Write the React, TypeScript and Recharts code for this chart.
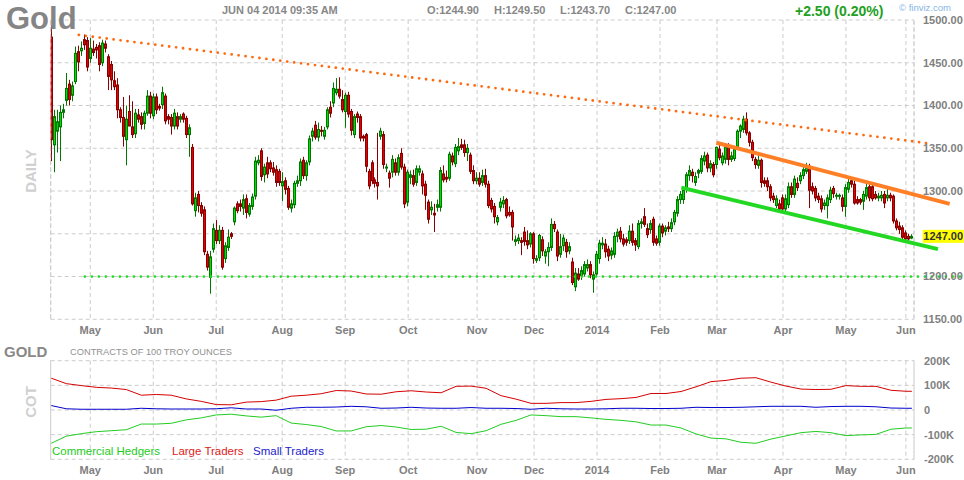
import React from "react";
import { ComposedChart, Bar, Line, XAxis, YAxis, CartesianGrid, ReferenceLine } from "recharts";

// ---------------------------------------------------------------------------
// Daily gold futures, mid Apr 2013 -> Jun 04 2014
// ---------------------------------------------------------------------------

const opens = [
  1480, 1354, 1370, 1375, 1392, 1406, 1425, 1412, 1428, 1463,
  1464, 1477, 1476, 1455, 1466, 1468, 1470, 1450, 1472, 1457,
  1448, 1429, 1424, 1395, 1386, 1360, 1393, 1375, 1367, 1389,
  1387, 1379, 1391, 1411, 1388, 1410, 1399, 1401, 1411, 1387,
  1386, 1376, 1387, 1384, 1390, 1385, 1366, 1351, 1277, 1296,
  1283, 1278, 1226, 1199, 1232, 1254, 1242, 1254, 1221, 1234,
  1250, 1264, 1285, 1285, 1280, 1291, 1273, 1282, 1294, 1333,
  1347, 1319, 1333, 1333, 1327, 1325, 1323, 1306, 1312, 1303,
  1280, 1284, 1309, 1312, 1336, 1318, 1334, 1364, 1377, 1363,
  1371, 1364, 1375, 1398, 1403, 1415, 1419, 1407, 1393, 1412,
  1393, 1366, 1390, 1387, 1364, 1366, 1323, 1333, 1313, 1310,
  1364, 1366, 1327, 1321, 1322, 1333, 1322, 1344, 1328, 1287,
  1316, 1318, 1310, 1322, 1320, 1308, 1287, 1278, 1274, 1281,
  1281, 1320, 1316, 1315, 1341, 1332, 1347, 1354, 1354, 1345,
  1342, 1324, 1312, 1315, 1310, 1318, 1308, 1289, 1282, 1264,
  1281, 1285, 1290, 1275, 1275, 1241, 1242, 1242, 1252, 1242,
  1238, 1250, 1219, 1222, 1243, 1224, 1229, 1234, 1261, 1252,
  1226, 1236, 1240, 1230, 1217, 1188, 1203, 1201, 1203, 1210,
  1214, 1197, 1203, 1221, 1237, 1238, 1232, 1225, 1226, 1247,
  1253, 1244, 1243, 1242, 1253, 1242, 1235, 1262, 1270, 1256,
  1255, 1267, 1244, 1240, 1259, 1253, 1258, 1256, 1264, 1274,
  1290, 1290, 1302, 1318, 1322, 1310, 1321, 1323, 1335, 1342,
  1327, 1331, 1331, 1349, 1333, 1337, 1351, 1337, 1338, 1351,
  1370, 1372, 1384, 1368, 1357, 1337, 1330, 1336, 1312, 1312,
  1305, 1294, 1283, 1285, 1292, 1279, 1284, 1305, 1296, 1309,
  1312, 1318, 1323, 1329, 1305, 1303, 1294, 1291, 1283, 1283,
  1290, 1303, 1294, 1294, 1292, 1282, 1302, 1312, 1308, 1290,
  1290, 1288, 1294, 1305, 1305, 1296, 1292, 1292, 1296, 1292,
  1295, 1294, 1265, 1259, 1257, 1251, 1247, 1244.9,
];

const highs = [
  1494, 1395, 1395, 1400, 1402, 1438, 1430, 1428, 1469, 1470,
  1475, 1483, 1480, 1479, 1476, 1472, 1474, 1477, 1476, 1460,
  1452, 1440, 1432, 1398, 1410, 1400, 1412, 1405, 1396, 1396,
  1392, 1394, 1418, 1416, 1414, 1414, 1402, 1422, 1414, 1390,
  1390, 1396, 1392, 1390, 1392, 1388, 1378, 1355, 1298, 1300,
  1287, 1282, 1230, 1230, 1262, 1266, 1260, 1258, 1240, 1255,
  1252, 1282, 1288, 1290, 1296, 1296, 1286, 1297, 1340, 1342,
  1350, 1332, 1340, 1336, 1334, 1330, 1326, 1322, 1316, 1306,
  1290, 1312, 1318, 1338, 1340, 1336, 1365, 1374, 1382, 1380,
  1376, 1375, 1398, 1405, 1427, 1432, 1433, 1418, 1415, 1416,
  1396, 1390, 1393, 1390, 1366, 1368, 1326, 1336, 1316, 1368,
  1374, 1370, 1332, 1324, 1342, 1338, 1343, 1350, 1332, 1325,
  1324, 1325, 1330, 1330, 1324, 1312, 1290, 1288, 1285, 1290,
  1328, 1330, 1324, 1346, 1345, 1355, 1362, 1361, 1360, 1355,
  1345, 1330, 1322, 1322, 1325, 1326, 1312, 1292, 1286, 1272,
  1292, 1294, 1292, 1282, 1278, 1248, 1250, 1246, 1258, 1254,
  1252, 1252, 1225, 1250, 1247, 1232, 1240, 1268, 1265, 1255,
  1250, 1249, 1244, 1240, 1222, 1210, 1210, 1212, 1218, 1220,
  1218, 1206, 1230, 1243, 1246, 1244, 1236, 1234, 1252, 1256,
  1258, 1250, 1246, 1260, 1262, 1245, 1266, 1268, 1280, 1262,
  1266, 1270, 1248, 1262, 1262, 1260, 1264, 1268, 1278, 1294,
  1300, 1305, 1322, 1330, 1326, 1322, 1326, 1342, 1346, 1345,
  1336, 1334, 1352, 1354, 1345, 1356, 1356, 1346, 1352, 1372,
  1378, 1388, 1392, 1370, 1360, 1340, 1342, 1338, 1316, 1316,
  1308, 1298, 1295, 1290, 1296, 1296, 1310, 1310, 1318, 1316,
  1322, 1328, 1333, 1332, 1310, 1306, 1298, 1295, 1290, 1296,
  1305, 1306, 1298, 1297, 1296, 1308, 1314, 1316, 1312, 1294,
  1292, 1300, 1310, 1308, 1308, 1300, 1298, 1300, 1300, 1304,
  1298, 1296, 1268, 1264, 1260, 1254, 1250, 1249.5,
];

const lows = [
  1335, 1322, 1345, 1335, 1385, 1400, 1400, 1405, 1425, 1440,
  1458, 1465, 1440, 1450, 1458, 1455, 1440, 1446, 1462, 1418,
  1418, 1418, 1385, 1380, 1352, 1330, 1378, 1362, 1362, 1380,
  1372, 1372, 1388, 1385, 1384, 1390, 1394, 1396, 1378, 1378,
  1366, 1372, 1372, 1380, 1380, 1362, 1340, 1283, 1270, 1275,
  1270, 1225, 1207, 1180, 1228, 1238, 1238, 1208, 1216, 1230,
  1244, 1260, 1274, 1276, 1272, 1268, 1270, 1278, 1290, 1330,
  1312, 1310, 1315, 1322, 1318, 1305, 1306, 1288, 1296, 1278,
  1275, 1280, 1305, 1306, 1314, 1312, 1330, 1358, 1360, 1358,
  1364, 1360, 1372, 1386, 1398, 1412, 1408, 1392, 1374, 1386,
  1365, 1362, 1380, 1358, 1358, 1322, 1302, 1308, 1304, 1290,
  1360, 1326, 1322, 1304, 1316, 1318, 1318, 1325, 1280, 1282,
  1308, 1305, 1306, 1318, 1296, 1278, 1262, 1272, 1252, 1276,
  1276, 1310, 1310, 1312, 1330, 1328, 1342, 1348, 1340, 1335,
  1320, 1308, 1308, 1305, 1306, 1304, 1280, 1275, 1262, 1260,
  1276, 1280, 1268, 1270, 1242, 1236, 1238, 1225, 1236, 1232,
  1234, 1215, 1216, 1218, 1224, 1215, 1212, 1230, 1252, 1218,
  1222, 1230, 1222, 1226, 1190, 1183, 1195, 1196, 1200, 1206,
  1198, 1181, 1200, 1215, 1232, 1222, 1218, 1220, 1222, 1240,
  1240, 1235, 1236, 1238, 1236, 1230, 1232, 1256, 1258, 1245,
  1250, 1236, 1236, 1236, 1246, 1248, 1252, 1252, 1260, 1270,
  1285, 1285, 1298, 1312, 1310, 1306, 1315, 1320, 1330, 1322,
  1322, 1316, 1326, 1336, 1330, 1332, 1330, 1334, 1335, 1348,
  1362, 1368, 1365, 1352, 1335, 1326, 1326, 1304, 1305, 1300,
  1288, 1286, 1280, 1275, 1276, 1276, 1280, 1292, 1292, 1300,
  1308, 1314, 1320, 1280, 1296, 1288, 1286, 1275, 1278, 1268,
  1286, 1292, 1290, 1290, 1276, 1270, 1298, 1304, 1284, 1284,
  1284, 1278, 1290, 1288, 1288, 1290, 1288, 1288, 1280, 1288,
  1288, 1262, 1254, 1250, 1242, 1240, 1240, 1243.7,
];

const closes = [
  1360, 1387, 1381, 1392, 1395, 1420, 1407, 1423, 1461, 1451,
  1467, 1471, 1445, 1467, 1462, 1465, 1448, 1473, 1467, 1434,
  1430, 1422, 1395, 1386, 1364, 1384, 1376, 1366, 1391, 1384,
  1378, 1391, 1411, 1391, 1410, 1395, 1397, 1415, 1382, 1384,
  1376, 1391, 1376, 1387, 1384, 1366, 1374, 1285, 1292, 1283,
  1274, 1229, 1211, 1223, 1256, 1242, 1254, 1211, 1236, 1246,
  1247, 1280, 1277, 1282, 1290, 1275, 1283, 1293, 1335, 1336,
  1317, 1328, 1320, 1326, 1322, 1310, 1310, 1311, 1302, 1281,
  1285, 1309, 1312, 1334, 1318, 1333, 1361, 1370, 1363, 1372,
  1370, 1371, 1395, 1391, 1420, 1419, 1411, 1395, 1412, 1390,
  1371, 1387, 1386, 1362, 1362, 1329, 1306, 1312, 1309, 1306,
  1370, 1331, 1328, 1315, 1337, 1322, 1339, 1328, 1285, 1322,
  1319, 1308, 1326, 1326, 1306, 1295, 1267, 1281, 1272, 1284,
  1324, 1313, 1314, 1343, 1334, 1351, 1352, 1351, 1345, 1350,
  1323, 1312, 1315, 1308, 1318, 1308, 1283, 1279, 1270, 1269,
  1287, 1289, 1271, 1272, 1258, 1243, 1245, 1240, 1241, 1237,
  1250, 1221, 1221, 1248, 1230, 1229, 1234, 1261, 1256, 1224,
  1235, 1245, 1229, 1235, 1193, 1204, 1197, 1207, 1214, 1214,
  1202, 1202, 1226, 1239, 1239, 1229, 1224, 1230, 1247, 1252,
  1244, 1238, 1240, 1253, 1240, 1237, 1262, 1264, 1261, 1249,
  1262, 1240, 1239, 1259, 1251, 1257, 1256, 1263, 1275, 1290,
  1296, 1301, 1319, 1324, 1318, 1317, 1324, 1338, 1341, 1327,
  1332, 1319, 1351, 1339, 1341, 1351, 1337, 1341, 1349, 1370,
  1376, 1384, 1368, 1357, 1339, 1331, 1336, 1310, 1309, 1305,
  1292, 1290, 1291, 1279, 1279, 1291, 1305, 1296, 1314, 1304,
  1318, 1325, 1327, 1301, 1300, 1292, 1290, 1279, 1286, 1292,
  1301, 1297, 1295, 1295, 1282, 1304, 1310, 1308, 1286, 1286,
  1287, 1296, 1304, 1292, 1291, 1292, 1294, 1295, 1286, 1295,
  1292, 1265, 1257, 1255, 1246, 1244, 1244, 1247,
];

// month gridlines sit on these candle indices
const monthTicks = [13, 34, 55, 77, 98, 119, 142, 161, 182, 203, 222, 244, 265, 285];
const monthLabels = ["May", "Jun", "Jul", "Aug", "Sep", "Oct", "Nov", "Dec", "2014", "Feb", "Mar", "Apr", "May", "Jun"];
const priceTicks = [1150, 1200, 1250, 1300, 1350, 1400, 1450, 1500];

// trend lines, [candle index, price] at each end
const longResistance = [[9.2, 1482.5], [292.9, 1355.6]];
const supportFloor = [[11.2, 1200], [303.6, 1200]];
const channelTop = [[221.8, 1356.4], [299.6, 1285]];
const channelBottom = [[210.1, 1304], [295.7, 1232]];

// ---------------------------------------------------------------------------
// COT, weekly samples (thousands of contracts)
// ---------------------------------------------------------------------------

const cotIdx = [
  0, 5, 10, 15, 20, 25, 30, 35, 40, 45, 50, 55, 60, 65, 70, 75, 80, 85, 90, 95,
  100, 105, 110, 115, 120, 125, 130, 135, 140, 145, 150, 155, 160, 165, 170, 175, 180, 185, 190, 195,
  200, 205, 210, 215, 220, 225, 230, 235, 240, 245, 250, 255, 260, 265, 270, 275, 280, 285, 287,
];
const commercialHedgers = [
  -135, -106, -96, -88, -84, -80, -57, -57, -54, -40, -32, -20, -17, -24, -29, -23, -53, -59, -67, -85,
  -85, -68, -63, -69, -79, -78, -66, -91, -96, -84, -58, -42, -20, -23, -27, -27, -32, -38, -42, -48,
  -61, -61, -73, -97, -114, -117, -131, -135, -118, -105, -92, -87, -92, -104, -101, -99, -78, -73, -73,
];
const largeTraders = [
  129, 107, 99, 92, 89, 83, 60, 63, 60, 45, 35, 22, 21, 32, 34, 40, 56, 60, 66, 79,
  77, 65, 64, 74, 78, 73, 70, 96, 97, 88, 58, 44, 27, 27, 30, 30, 35, 43, 46, 51,
  67, 67, 75, 94, 115, 120, 129, 131, 113, 97, 85, 83, 84, 99, 96, 96, 80, 76, 76,
];
const smallTraders = [
  18, 5, 3, 3, 3, 3, 7, 5, 4, 4, 4, 5, 9, 4, 4, -1, 7, 11, 11, 12,
  15, 13, 7, 8, 11, 8, 7, 7, 10, 7, 7, 6, 3, 7, 5, 4, 4, 5, 7, 7,
  6, 6, 7, 11, 10, 10, 11, 13, 15, 15, 15, 11, 14, 15, 15, 13, 8, 7, 7,
];
const cotTicks = [-200, -100, 0, 100, 200];

// ---------------------------------------------------------------------------

const FONT = "Arial, 'Liberation Sans', Helvetica, sans-serif";
const GRID = "#cccccc";
const X_DOMAIN: [number, number] = [-0.2, 287.7];
const axisTick = { fontSize: 11, fontWeight: "bold", fill: "#808080", fontFamily: FONT };
const lastClose = closes[closes.length - 1];

const candles = closes.map((c, i) => ({
  i,
  o: opens[i],
  h: highs[i],
  l: lows[i],
  c,
  range: [lows[i], highs[i]],
}));

const cotRows = cotIdx.map((i, k) => ({
  i,
  comm: commercialHedgers[k],
  large: largeTraders[k],
  small: smallTraders[k],
}));

function Candle(props: any) {
  const { x, y, width, height, payload } = props;
  if (!payload || x == null || y == null) return null;
  const cx = Math.floor(x + width / 2) + 0.5;
  const top = Math.min(y, y + height);
  const span = payload.h - payload.l || 1;
  const toY = (v: number) => top + ((payload.h - v) / span) * Math.abs(height);
  const up = payload.c >= payload.o;
  const bTop = toY(Math.max(payload.o, payload.c));
  const bBot = toY(Math.min(payload.o, payload.c));
  const edge = up ? "#007800" : "#880000";
  return (
    <g>
      <line x1={cx} x2={cx} y1={top} y2={top + Math.abs(height)} stroke={edge} strokeWidth={1} />
      <rect
        x={cx - 1}
        y={bTop}
        width={2}
        height={Math.max(bBot - bTop, 1)}
        fill={up ? "#00dd00" : "#e40000"}
        stroke={edge}
        strokeWidth={1}
      />
    </g>
  );
}

function PriceTag(props: any) {
  const vb = props.viewBox || {};
  const left = vb.x + vb.width + 8.7;
  return (
    <g>
      <rect x={left} y={vb.y - 6.5} width={41} height={13} fill="#ffff00" />
      <text x={left + 20.5} y={vb.y + 4} textAnchor="middle" fontSize={11} fontWeight="bold" fill="#333" fontFamily={FONT}>
        {lastClose.toFixed(2)}
      </text>
    </g>
  );
}

function seg(pts: number[][]) {
  return pts.map(([x, y]) => ({ x, y }));
}

function Txt({ x, y, size, color, bold, children }: any) {
  return (
    <div
      style={{
        position: "absolute",
        left: x,
        top: y - size / 2,
        fontSize: size,
        lineHeight: `${size}px`,
        color,
        fontWeight: bold ? "bold" : "normal",
        fontFamily: FONT,
        whiteSpace: "nowrap",
      }}
    >
      {children}
    </div>
  );
}

function VTxt({ cx, cy, size, color, children }: any) {
  return (
    <div
      style={{
        position: "absolute",
        left: cx,
        top: cy,
        transform: "translate(-50%, -50%) rotate(-90deg)",
        fontSize: size,
        lineHeight: `${size}px`,
        color,
        fontWeight: "bold",
        fontFamily: FONT,
        whiteSpace: "nowrap",
      }}
    >
      {children}
    </div>
  );
}

const monthFmt = (v: number) => monthLabels[monthTicks.indexOf(v)] ?? "";
// the last-price tag sits on top of the price label it covers
const priceFmt = (v: number) => (Math.abs(v - lastClose) < 8 ? "" : v.toFixed(2));

export default function App() {
  return (
    <div style={{ position: "absolute", left: 0, top: 0, width: 964, height: 480, background: "#fff", overflow: "hidden" }}>
      <div style={{ position: "absolute", left: 0, top: 0 }}>
        <ComposedChart width={964} height={345} data={candles} margin={{ top: 20, right: 0, bottom: 5.7, left: 50.7 }}>
          <CartesianGrid stroke={GRID} strokeDasharray="4 3" />
          <XAxis
            type="number"
            dataKey="i"
            domain={X_DOMAIN}
            ticks={monthTicks}
            tickFormatter={monthFmt}
            interval={0}
            allowDataOverflow
            tickLine={false}
            axisLine={false}
            tickMargin={1}
            height={20}
            tick={axisTick}
          />
          <YAxis
            orientation="right"
            type="number"
            domain={[1150, 1500]}
            ticks={priceTicks}
            allowDataOverflow
            tickFormatter={priceFmt}
            tickLine={false}
            axisLine={false}
            tickMargin={3}
            width={50}
            tick={axisTick}
          />
          <ReferenceLine x={X_DOMAIN[0]} stroke={GRID} strokeDasharray="4 3" />
          <ReferenceLine x={X_DOMAIN[1]} stroke={GRID} strokeDasharray="4 3" />
          <Bar dataKey="range" barSize={3} isAnimationActive={false} shape={(p: any) => <Candle {...p} />} />
          <ReferenceLine
            segment={seg(longResistance)}
            stroke="#ff6a10"
            strokeWidth={2.8}
            strokeDasharray="0 7"
            strokeLinecap="round"
            ifOverflow="visible"
          />
          <ReferenceLine
            segment={seg(supportFloor)}
            stroke="#22dd22"
            strokeWidth={2.8}
            strokeDasharray="0 7"
            strokeLinecap="round"
            ifOverflow="visible"
          />
          <ReferenceLine segment={seg(channelTop)} stroke="#ff7f27" strokeWidth={4} ifOverflow="visible" />
          <ReferenceLine segment={seg(channelBottom)} stroke="#22d822" strokeWidth={4} ifOverflow="visible" />
          <ReferenceLine y={lastClose} stroke="none" ifOverflow="visible" label={(p: any) => <PriceTag {...p} />} />
        </ComposedChart>
      </div>

      <div style={{ position: "absolute", left: 0, top: 340 }}>
        <ComposedChart width={964} height={140} data={cotRows} margin={{ top: 20.7, right: 0, bottom: 0.7, left: 50.7 }}>
          <CartesianGrid stroke={GRID} strokeDasharray="4 3" />
          <XAxis
            type="number"
            dataKey="i"
            domain={X_DOMAIN}
            ticks={monthTicks}
            tickFormatter={monthFmt}
            interval={0}
            allowDataOverflow
            tickLine={false}
            axisLine={false}
            tickMargin={1}
            height={20}
            tick={axisTick}
          />
          <YAxis
            orientation="right"
            type="number"
            domain={[-200, 200]}
            ticks={cotTicks}
            tickFormatter={(v: number) => (v === 0 ? "0" : `${v}K`)}
            tickLine={false}
            axisLine={false}
            tickMargin={4}
            width={50}
            tick={axisTick}
          />
          <ReferenceLine x={X_DOMAIN[0]} stroke={GRID} strokeDasharray="4 3" />
          <ReferenceLine x={X_DOMAIN[1]} stroke={GRID} strokeDasharray="4 3" />
          <Line type="linear" dataKey="large" stroke="#d40000" strokeWidth={1} dot={false} isAnimationActive={false} />
          <Line type="linear" dataKey="small" stroke="#0000cc" strokeWidth={1} dot={false} isAnimationActive={false} />
          <Line type="linear" dataKey="comm" stroke="#22cc22" strokeWidth={1} dot={false} isAnimationActive={false} />
        </ComposedChart>
      </div>

      <Txt x={6} y={18.5} size={31} color="#858585" bold>Gold</Txt>
      <Txt x={222} y={10.8} size={11} color="#878787" bold>JUN 04 2014 09:35 AM</Txt>
      <Txt x={427} y={10.8} size={11} color="#878787" bold>O:1244.90</Txt>
      <Txt x={494} y={10.8} size={11} color="#878787" bold>H:1249.50</Txt>
      <Txt x={560} y={10.8} size={11} color="#878787" bold>L:1243.70</Txt>
      <Txt x={625} y={10.8} size={11} color="#878787" bold>C:1247.00</Txt>
      <Txt x={795} y={10.8} size={14} color="#22a022" bold>+2.50 (0.20%)</Txt>
      <Txt x={899} y={8} size={9.5} color="#85b5e5">© finviz.com</Txt>
      <VTxt cx={30} cy={171} size={15} color="#d0d0d0">DAILY</VTxt>

      <Txt x={4} y={351} size={15} color="#888888" bold>GOLD</Txt>
      <Txt x={70} y={352.5} size={9.3} color="#909090">CONTRACTS OF 100 TROY OUNCES</Txt>
      <VTxt cx={30} cy={402} size={15} color="#d0d0d0">COT</VTxt>
      <Txt x={52} y={452} size={11.5} color="#22cc22">Commercial Hedgers</Txt>
      <Txt x={172} y={452} size={11.5} color="#dd2222">Large Traders</Txt>
      <Txt x={253} y={452} size={11.5} color="#2222cc">Small Traders</Txt>
    </div>
  );
}
